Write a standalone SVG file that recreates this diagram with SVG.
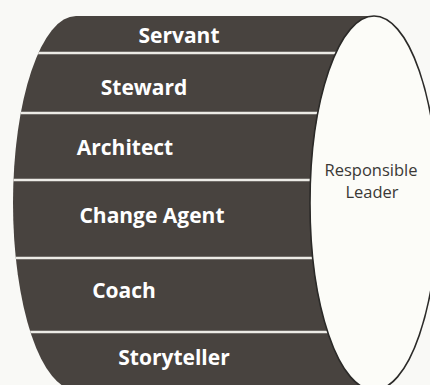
<svg xmlns="http://www.w3.org/2000/svg" width="430" height="385" viewBox="0 0 430 385">
  <style>
    .band-label { font-family: "Open Sans", "Liberation Sans", sans-serif; font-weight: 700; font-size: 21px; fill: #ffffff; text-anchor: middle; }
    .face-label { font-family: "Open Sans", "Liberation Sans", sans-serif; font-weight: 400; font-size: 16.5px; fill: #3a3836; text-anchor: middle; }
    .sep { stroke: #ecebe6; stroke-width: 2.5; fill: none; }
  </style>
  <defs>
    <clipPath id="bodyClip">
      <path d="M76,16 L374,16 L374,390 L76,390 A63,187 0 0 1 76,16 Z"/>
    </clipPath>
  </defs>
  <rect x="0" y="0" width="430" height="385" fill="#f9f9f6"/>

  <g id="cylinder-body">
    <path d="M76,16 L374,16 L374,390 L76,390 A63,187 0 0 1 76,16 Z" fill="#48433f"/>
    <g clip-path="url(#bodyClip)">
      <line class="sep" x1="0" y1="53" x2="374" y2="53"/>
      <line class="sep" x1="0" y1="113" x2="374" y2="113"/>
      <line class="sep" x1="0" y1="180" x2="374" y2="180"/>
      <line class="sep" x1="0" y1="258" x2="374" y2="258"/>
      <line class="sep" x1="0" y1="332" x2="374" y2="332"/>
    </g>
  </g>

  <g id="servant"><text class="band-label" x="179" y="43">Servant</text></g>
  <g id="steward"><text class="band-label" x="144" y="95">Steward</text></g>
  <g id="architect"><text class="band-label" x="125" y="155">Architect</text></g>
  <g id="change-agent"><text class="band-label" x="152" y="223">Change Agent</text></g>
  <g id="coach"><text class="band-label" x="124" y="298">Coach</text></g>
  <g id="storyteller"><text class="band-label" x="174" y="365">Storyteller</text></g>

  <g id="responsible-leader">
    <ellipse cx="374" cy="203" rx="64" ry="187" fill="#fcfcf8" stroke="#2b2a28" stroke-width="1.6"/>
    <text class="face-label" x="371" y="176">Responsible</text>
    <text class="face-label" x="372" y="198">Leader</text>
  </g>
</svg>
